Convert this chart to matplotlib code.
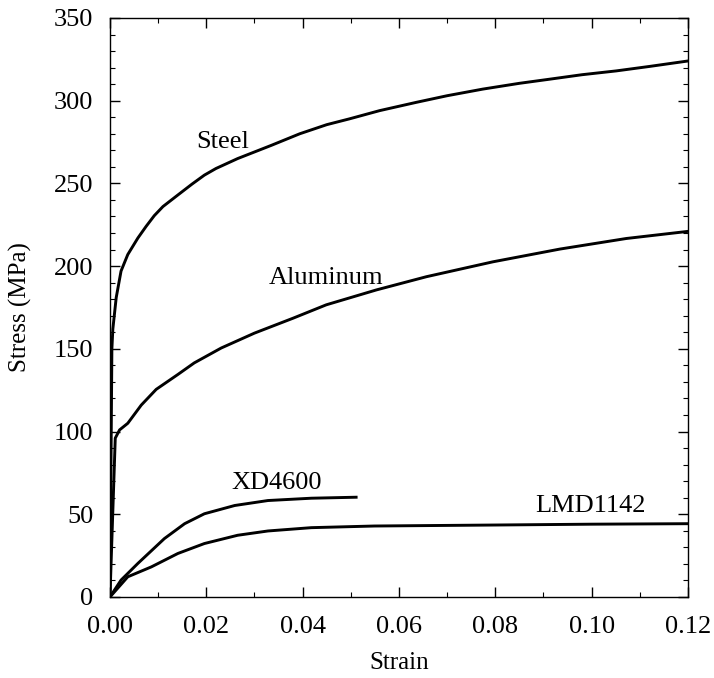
import matplotlib
matplotlib.use("Agg")
import matplotlib.pyplot as plt
from matplotlib.ticker import MultipleLocator

plt.rcParams['font.family'] = ['Liberation Serif', 'DejaVu Serif']

# stress-strain curves (strain, MPa)
steel_strain = [0.0, 0.0004, 0.0006, 0.0013, 0.0023, 0.0037, 0.0058, 0.0075, 0.0092,
                0.011, 0.0141, 0.017, 0.0196, 0.022, 0.0265, 0.030, 0.0335, 0.0394,
                0.045, 0.0497, 0.056, 0.0636, 0.070, 0.0774, 0.085, 0.0913, 0.098,
                0.1051, 0.112, 0.12]
steel_stress = [0.0, 150, 162, 181, 197, 207, 217, 224, 230.5,
                236, 243, 249.5, 255, 259, 265, 269, 273, 280,
                285.5, 289, 294, 299, 303, 307, 310.5, 313, 315.7,
                318, 320.7, 324]

alu_strain = [0.0, 0.0011, 0.002, 0.0037, 0.0065, 0.0096, 0.0141, 0.0175, 0.0231,
              0.030, 0.038, 0.0449, 0.0553, 0.0657, 0.0795, 0.0934, 0.1072, 0.12]
alu_stress = [0.0, 96, 101, 105, 116, 125.5, 134.5, 141.5, 150.5,
              159.5, 168.5, 176.6, 185.6, 193.6, 202.6, 210.3, 216.7, 221]

xd_strain = [0.0, 0.0023, 0.0058, 0.0113, 0.0155, 0.0196, 0.0259, 0.0328, 0.0418, 0.0511]
xd_stress = [0.0, 10.2, 20.3, 35.3, 44.3, 50.3, 55.3, 58.3, 59.7, 60.3]

lmd_strain = [0.0, 0.0037, 0.0086, 0.0141, 0.0196, 0.0265, 0.0328, 0.0418, 0.0549,
              0.08, 0.10, 0.12]
lmd_stress = [0.0, 12.2, 18.2, 26.3, 32.3, 37.3, 39.9, 41.9, 42.9,
              43.5, 44.0, 44.3]

fig = plt.figure(figsize=(7.14, 6.78), dpi=100)
ax = fig.add_axes([0.154, 0.1195, 0.8096, 0.854])

for xs, ys in [(steel_strain, steel_stress), (alu_strain, alu_stress),
               (xd_strain, xd_stress), (lmd_strain, lmd_stress)]:
    ax.plot(xs, ys, color='black', lw=2.1, solid_joinstyle='round')

ax.text(0.0234, 275, "Steel", fontsize=19, ha='center', va='center')
ax.text(0.0449, 193, "Aluminum", fontsize=19, ha='center', va='center')
ax.text(0.0347, 69, "XD4600", fontsize=19, ha='center', va='center')
ax.text(0.0998, 54.7, "LMD1142", fontsize=19, ha='center', va='center')

ax.set_xlim(0, 0.12)
ax.set_ylim(0, 350)
ax.xaxis.set_major_locator(MultipleLocator(0.02))
ax.xaxis.set_minor_locator(MultipleLocator(0.01))
ax.yaxis.set_major_locator(MultipleLocator(50))
ax.yaxis.set_minor_locator(MultipleLocator(10))
ax.xaxis.set_major_formatter(lambda v, p: f"{v:.2f}")

ax.tick_params(which='both', direction='in', top=True, right=True, labelsize=19)
ax.tick_params(which='major', length=7, width=1)
ax.tick_params(which='minor', length=3.5, width=0.8)
ax.tick_params(axis='y', pad=12)
ax.tick_params(axis='x', pad=14)
for s in ax.spines.values():
    s.set_linewidth(1)

ax.set_xlabel("Strain", fontsize=18, labelpad=10)
ax.set_ylabel("Stress (MPa)", fontsize=18, labelpad=16)

fig.savefig("out.png", dpi=100)
